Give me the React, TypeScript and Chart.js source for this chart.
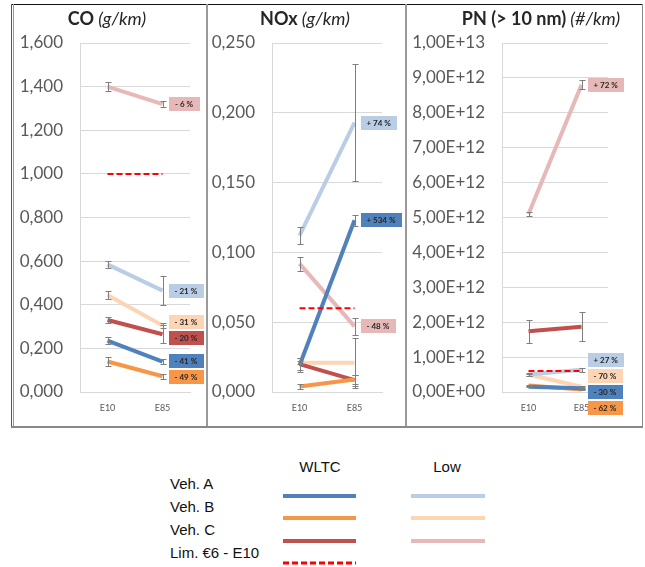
import React, { useEffect, useRef } from 'react';
import { Chart, registerables } from 'chart.js';

Chart.register(...registerables);

// ---------- data ----------
const CATEGORIES = ['E10', 'E85'];
const SERIES_NAMES = ['Veh. A WLTC', 'Veh. B WLTC', 'Veh. C WLTC', 'Veh. A Low', 'Veh. B Low', 'Veh. C Low'];
const SERIES_COLORS = ['#4F81BD', '#F79646', '#C0504D', '#B9CDE5', '#FCD5B5', '#E6B9B8'];
const LIMIT_NAME = 'Lim. €6 - E10';
const LIMIT_COLOR = '#FF0000';

// CO (g/km)
const CO_VEH_A_WLTC = [0.235, 0.139];
const CO_VEH_B_WLTC = [0.14, 0.072];
const CO_VEH_C_WLTC = [0.33, 0.265];
const CO_VEH_A_LOW = [0.585, 0.465];
const CO_VEH_B_LOW = [0.445, 0.305];
const CO_VEH_C_LOW = [1.4, 1.32];
const CO_LIMIT = [1.0, 1.0];
const CO_ERRORS = [[0.015, 0.012], [0.02, 0.012], [0.015, 0.04], [0.015, 0.065], [0.02, 0.01], [0.02, 0.015]];
const CO_LABELS = ['- 41 %', '- 49 %', '- 20 %', '- 21 %', '- 31 %', '- 6 %'];
const CO_TICKS = ['0,000', '0,200', '0,400', '0,600', '0,800', '1,000', '1,200', '1,400', '1,600'];

// NOx (g/km)
const NOX_VEH_A_WLTC = [0.019, 0.123];
const NOX_VEH_B_WLTC = [0.004, 0.009];
const NOX_VEH_C_WLTC = [0.02, 0.0085];
const NOX_VEH_A_LOW = [0.112, 0.193];
const NOX_VEH_B_LOW = [0.021, 0.021];
const NOX_VEH_C_LOW = [0.092, 0.047];
const NOX_LIMIT = [0.06, 0.06];
const NOX_ERRORS = [[0.005, 0.004], [0.002, 0.003], [0.004, 0.004], [0.006, 0.042], [0.001, 0.018], [0.005, 0.006]];
const NOX_LABELS = ['+ 534 %', null, null, '+ 74 %', null, '- 48 %'];
const NOX_TICKS = ['0,000', '0,050', '0,100', '0,150', '0,200', '0,250'];

// PN > 10 nm (#/km)
const PN_VEH_A_WLTC = [0.15e12, 0.105e12];
const PN_VEH_B_WLTC = [0.185e12, 0.07e12];
const PN_VEH_C_WLTC = [1.74e12, 1.87e12];
const PN_VEH_A_LOW = [0.5e12, 0.635e12];
const PN_VEH_B_LOW = [0.5e12, 0.15e12];
const PN_VEH_C_LOW = [5.1e12, 8.8e12];
const PN_LIMIT = [0.6e12, 0.6e12];
const PN_ERRORS = [[0.02e12, 0.02e12], [0.02e12, 0.02e12], [0.33e12, 0.41e12], [0.05e12, 0.05e12], [0.03e12, 0.02e12], [0.05e12, 0.13e12]];
const PN_LABELS = ['- 30 %', '- 62 %', null, '+ 27 %', '- 70 %', '+ 72 %'];
const PN_TICKS = ['0,00E+00', '1,00E+12', '2,00E+12', '3,00E+12', '4,00E+12', '5,00E+12', '6,00E+12', '7,00E+12', '8,00E+12', '9,00E+12', '1,00E+13'];

// ---------- plugins ----------
const errorBarPlugin = {
  id: 'errorBars',
  afterDatasetsDraw(chart: any) {
    const { ctx } = chart;
    const xs = chart.scales.x;
    const ys = chart.scales.y;
    ctx.save();
    ctx.strokeStyle = '#7F7F7F';
    ctx.lineWidth = 1;
    chart.data.datasets.forEach((ds: any) => {
      if (!ds.errors) return;
      ds.data.forEach((v: number, i: number) => {
        const e = ds.errors[i];
        if (!e) return;
        const x = Math.round(xs.getPixelForValue(i)) + 0.5;
        const y1 = Math.round(ys.getPixelForValue(v + e)) + 0.5;
        const y2 = Math.round(ys.getPixelForValue(v - e)) + 0.5;
        ctx.beginPath();
        ctx.moveTo(x, y1);
        ctx.lineTo(x, y2);
        ctx.moveTo(x - 3, y1);
        ctx.lineTo(x + 3, y1);
        ctx.moveTo(x - 3, y2);
        ctx.lineTo(x + 3, y2);
        ctx.stroke();
      });
    });
    ctx.restore();
  },
};

const changeLabelPlugin = {
  id: 'changeLabels',
  afterDatasetsDraw(chart: any) {
    const { ctx } = chart;
    const xs = chart.scales.x;
    const ys = chart.scales.y;
    const items: any[] = [];
    chart.data.datasets.forEach((ds: any) => {
      if (!ds.changeLabel) return;
      const i = ds.data.length - 1;
      items.push({
        text: ds.changeLabel,
        color: ds.borderColor,
        x: xs.getPixelForValue(i) + 6,
        y: ys.getPixelForValue(ds.data[i]),
      });
    });
    items.sort((a, b) => a.y - b.y);
    const gap = 16;
    for (let it = 0; it < 200; it++) {
      let moved = false;
      for (let k = 1; k < items.length; k++) {
        const d = items[k].y - items[k - 1].y;
        if (d < gap - 0.01) {
          const s = (gap - d) / 2;
          items[k - 1].y -= s;
          items[k].y += s;
          moved = true;
        }
      }
      if (!moved) break;
    }
    ctx.save();
    ctx.font = 'bold 8px Lato';
    ctx.textAlign = 'center';
    ctx.textBaseline = 'middle';
    items.forEach((it) => {
      const w = Math.max(31, ctx.measureText(it.text).width + 12);
      ctx.fillStyle = it.color;
      ctx.fillRect(Math.round(it.x), Math.round(it.y - 7), Math.round(w), 14);
      ctx.fillStyle = '#262626';
      ctx.fillText(it.text, it.x + w / 2, it.y + 0.5);
    });
    ctx.restore();
  },
};

const titlePlugin = {
  id: 'panelTitle',
  afterDraw(chart: any) {
    const o = chart.options.plugins.panelTitle;
    if (!o) return;
    const { ctx } = chart;
    ctx.save();
    ctx.textBaseline = 'middle';
    ctx.textAlign = 'left';
    ctx.fillStyle = '#262626';
    const boldFont = 'bold 18px Lato';
    const itFont = 'italic 18px Lato';
    ctx.font = boldFont;
    const w1 = ctx.measureText(o.main).width;
    ctx.font = itFont;
    const w2 = ctx.measureText(' ' + o.unit).width;
    const start = o.x - (w1 + w2) / 2;
    ctx.font = boldFont;
    ctx.fillText(o.main, start, o.y);
    ctx.font = itFont;
    ctx.fillText(' ' + o.unit, start + w1, o.y);
    ctx.restore();
  },
};

// ---------- panel ----------
type PanelProps = {
  left: number;
  top: number;
  width: number;
  height: number;
  axisWidth: number;
  padRight: number;
  titleX: number;
  title: string;
  unit: string;
  series: number[][];
  limit: number[];
  errors: number[][];
  labels: (string | null)[];
  ticks: string[];
  max: number;
  step: number;
};

function Panel(p: PanelProps) {
  const ref = useRef<HTMLCanvasElement | null>(null);
  useEffect(() => {
    if (!ref.current) return;
    const datasets: any[] = [
      {
        label: LIMIT_NAME,
        data: p.limit,
        borderColor: LIMIT_COLOR,
        borderWidth: 2,
        borderDash: [6, 3],
        pointRadius: 0,
        fill: false,
      },
      ...p.series.map((vals, i) => ({
        label: SERIES_NAMES[i],
        data: vals,
        borderColor: SERIES_COLORS[i],
        backgroundColor: SERIES_COLORS[i],
        borderWidth: 4,
        pointRadius: 0,
        fill: false,
        errors: p.errors[i],
        changeLabel: p.labels[i],
      })),
    ];
    const chart = new Chart(ref.current, {
      type: 'line',
      data: { labels: CATEGORIES, datasets },
      options: {
        responsive: false,
        animation: false,
        layout: { padding: { top: 38, right: p.padRight, left: 0, bottom: 0 } },
        plugins: {
          legend: { display: false },
          tooltip: { enabled: false },
          panelTitle: { main: p.title, unit: p.unit, x: p.titleX, y: 14 },
        } as any,
        scales: {
          x: {
            type: 'category',
            offset: true,
            grid: { display: false, drawTicks: false },
            border: { display: true, color: '#D9D9D9', width: 1 },
            ticks: { color: '#595959', font: { family: 'Lato', size: 9 }, padding: 11, maxRotation: 0 },
            afterFit: (s: any) => {
              s.height = 33;
            },
          },
          y: {
            min: 0,
            max: p.max,
            grid: { color: '#D9D9D9', drawTicks: false, lineWidth: 1 },
            border: { display: true, color: '#D9D9D9', width: 1 },
            ticks: {
              stepSize: p.step,
              color: '#595959',
              font: { family: 'Lato', size: 17 },
              padding: 17,
              autoSkip: false,
              callback: (_v: any, i: number) => p.ticks[i],
            },
            afterFit: (s: any) => {
              s.width = p.axisWidth;
            },
          },
        },
      } as any,
      plugins: [errorBarPlugin, changeLabelPlugin, titlePlugin],
    });
    return () => chart.destroy();
  }, []);
  return (
    <canvas
      ref={ref}
      width={p.width}
      height={p.height}
      style={{ position: 'absolute', left: p.left, top: p.top, width: p.width, height: p.height }}
    />
  );
}

// ---------- legend ----------
const legendText: React.CSSProperties = {
  position: 'absolute',
  fontFamily: '"Liberation Sans", Arial, sans-serif',
  fontSize: 15,
  lineHeight: '17px',
  color: '#111',
  whiteSpace: 'nowrap',
};

function LegendLine({ x1, x2, y, color, dashed }: { x1: number; x2: number; y: number; color: string; dashed?: boolean }) {
  return (
    <svg style={{ position: 'absolute', left: x1, top: y - 3, overflow: 'visible' }} width={x2 - x1} height={6}>
      <line x1={0} y1={3} x2={x2 - x1} y2={3} stroke={color} strokeWidth={dashed ? 3 : 4} strokeDasharray={dashed ? '6 3' : undefined} />
    </svg>
  );
}

export default function App() {
  const rows = ['Veh. A', 'Veh. B', 'Veh. C'];
  const rowY = [484, 507, 530];
  const lineY = [496, 518, 541];
  return (
    <div style={{ position: 'fixed', left: 0, top: 0, width: 645, height: 567, background: '#fff', overflow: 'hidden' }}>
      {/* frame */}
      <div style={{ position: 'absolute', left: 11, top: 4, width: 632, height: 1, background: '#111' }} />
      <div style={{ position: 'absolute', left: 11, top: 4, width: 1, height: 423, background: '#555' }} />
      <div style={{ position: 'absolute', left: 13, top: 4, width: 1, height: 423, background: '#999' }} />
      <div style={{ position: 'absolute', left: 206, top: 4, width: 2, height: 423, background: '#9A9A9A' }} />
      <div style={{ position: 'absolute', left: 405, top: 4, width: 2, height: 423, background: '#9A9A9A' }} />
      <div style={{ position: 'absolute', left: 642, top: 4, width: 1, height: 423, background: '#888' }} />
      <div style={{ position: 'absolute', left: 11, top: 426, width: 632, height: 2, background: '#888' }} />

      <Panel
        left={14} top={5} width={192} height={420} axisWidth={66} padRight={16} titleX={93}
        title="CO" unit="(g/km)"
        series={[CO_VEH_A_WLTC, CO_VEH_B_WLTC, CO_VEH_C_WLTC, CO_VEH_A_LOW, CO_VEH_B_LOW, CO_VEH_C_LOW]}
        limit={CO_LIMIT} errors={CO_ERRORS} labels={CO_LABELS} ticks={CO_TICKS} max={1.6} step={0.2}
      />
      <Panel
        left={208} top={5} width={197} height={420} axisWidth={64} padRight={23} titleX={97}
        title="NOx" unit="(g/km)"
        series={[NOX_VEH_A_WLTC, NOX_VEH_B_WLTC, NOX_VEH_C_WLTC, NOX_VEH_A_LOW, NOX_VEH_B_LOW, NOX_VEH_C_LOW]}
        limit={NOX_LIMIT} errors={NOX_ERRORS} labels={NOX_LABELS} ticks={NOX_TICKS} max={0.25} step={0.05}
      />
      <Panel
        left={407} top={5} width={235} height={420} axisWidth={95} padRight={34} titleX={134}
        title="PN (> 10 nm)" unit="(#/km)"
        series={[PN_VEH_A_WLTC, PN_VEH_B_WLTC, PN_VEH_C_WLTC, PN_VEH_A_LOW, PN_VEH_B_LOW, PN_VEH_C_LOW]}
        limit={PN_LIMIT} errors={PN_ERRORS} labels={PN_LABELS} ticks={PN_TICKS} max={1e13} step={1e12}
      />

      {/* legend */}
      <div style={{ ...legendText, left: 280, width: 80, top: 458, textAlign: 'center' }}>WLTC</div>
      <div style={{ ...legendText, left: 407, width: 80, top: 458, textAlign: 'center' }}>Low</div>
      {rows.map((r, i) => (
        <div key={r} style={{ ...legendText, left: 170, top: rowY[i] - 9 }}>{r}</div>
      ))}
      <div style={{ ...legendText, left: 170, top: 553 - 9 }}>{LIMIT_NAME}</div>
      {rows.map((r, i) => (
        <LegendLine key={'w' + r} x1={283} x2={356} y={lineY[i]} color={SERIES_COLORS[i]} />
      ))}
      {rows.map((r, i) => (
        <LegendLine key={'l' + r} x1={411} x2={485} y={lineY[i]} color={SERIES_COLORS[i + 3]} />
      ))}
      <LegendLine x1={283} x2={356} y={563} color={LIMIT_COLOR} dashed />
    </div>
  );
}
